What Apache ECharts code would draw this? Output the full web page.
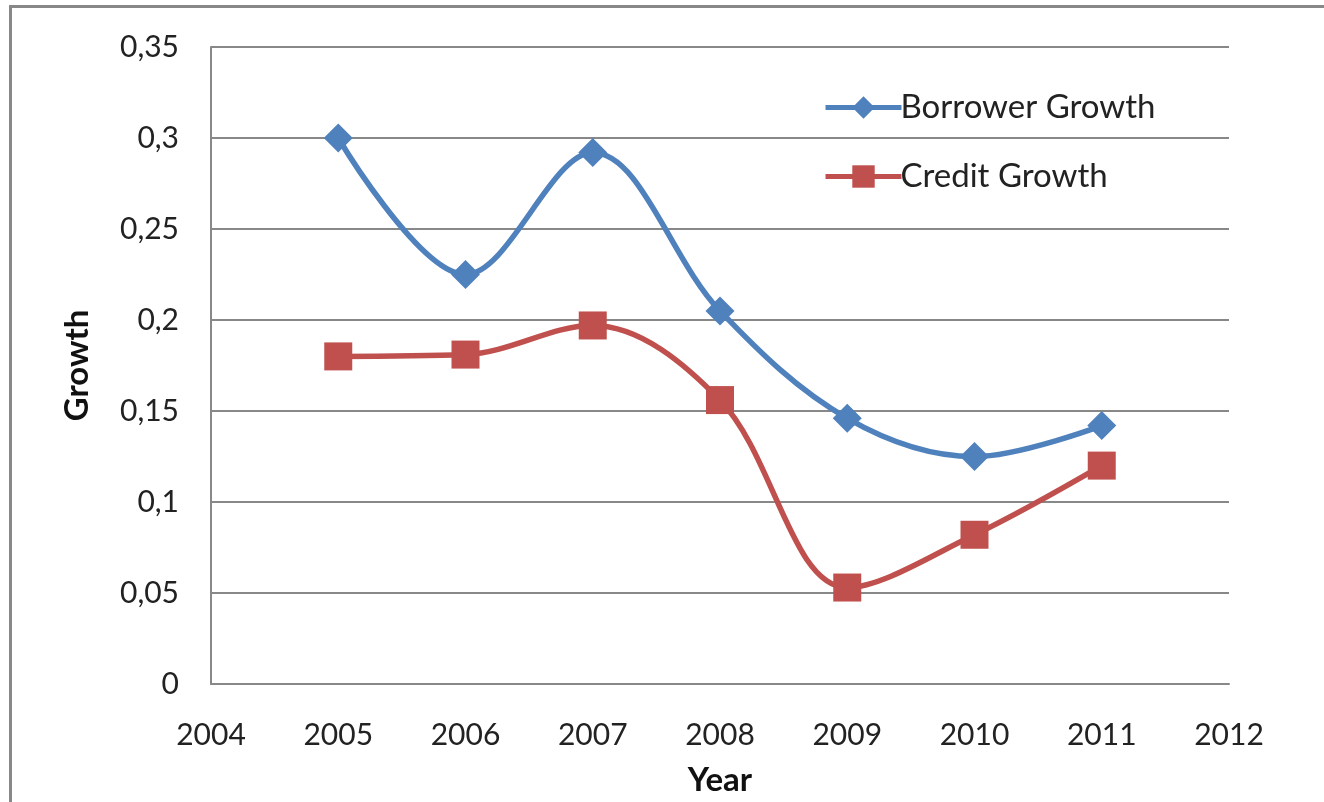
<!DOCTYPE html>
<html>
<head>
<meta charset="utf-8">
<script src="https://cdn.jsdelivr.net/npm/echarts@6/dist/echarts.min.js"></script>
<style>
html,body{margin:0;padding:0;background:#fff;}
#chart{width:1324px;height:802px;}
</style>
</head>
<body>
<div id="chart"></div>
<script>
const years = [2005, 2006, 2007, 2008, 2009, 2010, 2011];
const borrowerGrowth = [0.300, 0.225, 0.292, 0.205, 0.146, 0.125, 0.142];
const creditGrowth = [0.180, 0.181, 0.197, 0.156, 0.053, 0.082, 0.120];
const seriesNames = ['Borrower Growth', 'Credit Growth'];

const FONT = 'Lato, "Open Sans", sans-serif';
const chart = echarts.init(document.getElementById('chart'));
const fmt = v => String(+v.toFixed(2)).replace('.', ',');

chart.setOption({
  animation: false,
  backgroundColor: '#fff',
  graphic: [{
    type: 'rect', shape: {x: 10.5, y: 6.5, width: 1330, height: 820},
    style: {fill: 'none', stroke: '#888', lineWidth: 3}, z: 100
  }],
  grid: {left: 211, right: 95, top: 47, bottom: 116},
  legend: {
    orient: 'vertical', left: 818, top: 86, itemGap: 36,
    itemWidth: 76, itemHeight: 28,
    lineStyle: {width: 5},
    textStyle: {fontFamily: FONT, fontSize: 33, color: '#222', padding: [0, 0, 0, -6]},
    data: seriesNames
  },
  xAxis: {
    type: 'value', min: 2004, max: 2012, interval: 1,
    name: 'Year', nameLocation: 'middle', nameGap: 80,
    nameTextStyle: {fontFamily: FONT, fontSize: 33, fontWeight: 'bold', color: '#111'},
    axisLine: {show: true, lineStyle: {color: '#888', width: 2}},
    axisTick: {show: false},
    splitLine: {show: false},
    axisLabel: {fontFamily: FONT, fontSize: 30, color: '#222', margin: 36, formatter: v => String(v)}
  },
  yAxis: {
    type: 'value', min: 0, max: 0.35, interval: 0.05,
    name: 'Growth', nameLocation: 'middle', nameGap: 117,
    nameTextStyle: {fontFamily: FONT, fontSize: 33, fontWeight: 'bold', color: '#111'},
    axisLine: {show: true, lineStyle: {color: '#888', width: 2}},
    axisTick: {show: false},
    splitLine: {show: true, lineStyle: {color: '#888', width: 2}},
    axisLabel: {fontFamily: FONT, fontSize: 30, color: '#222', margin: 32, formatter: fmt}
  },
  series: [
    {
      name: seriesNames[0], type: 'line', smooth: 0.35,
      data: years.map((y, i) => [y, borrowerGrowth[i]]),
      symbol: 'diamond', symbolSize: 29,
      lineStyle: {color: '#4F81BD', width: 5.5},
      itemStyle: {color: '#4F81BD'}
    },
    {
      name: seriesNames[1], type: 'line', smooth: 0.35,
      data: years.map((y, i) => [y, creditGrowth[i]]),
      symbol: 'rect', symbolSize: 28,
      lineStyle: {color: '#C0504D', width: 5.5},
      itemStyle: {color: '#C0504D'}
    }
  ]
});
</script>
</body>
</html>
